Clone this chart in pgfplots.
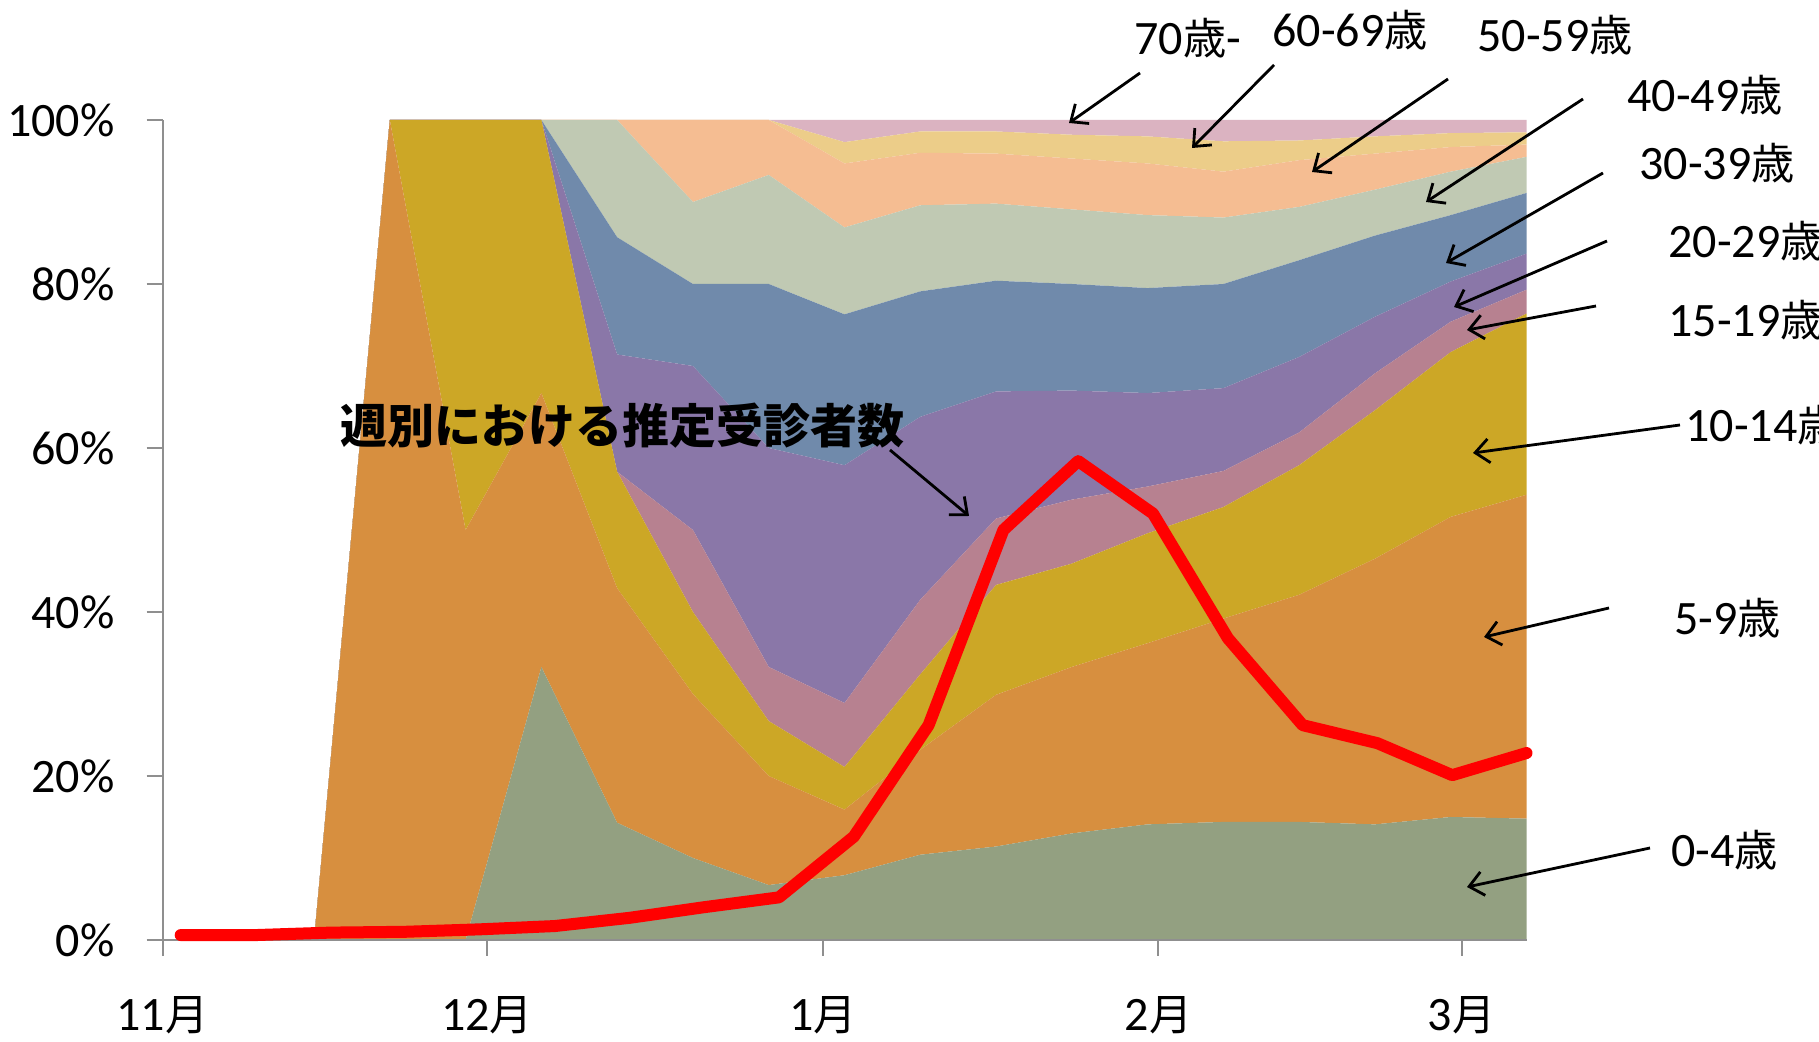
\documentclass[border=0pt]{standalone}
\usepackage{fontspec}
\setmainfont{Carlito}
\newfontfamily\cjk{Noto Sans CJK JP}[Scale=0.9]
\newfontfamily\cjkt{Noto Sans CJK JP}
\usepackage{pgfplots}
\pgfplotsset{compat=1.18}
\usepackage{pgfplotstable}
\usetikzlibrary{arrows.meta}

\definecolor{cA}{HTML}{93A081}
\definecolor{cB}{HTML}{D78F3F}
\definecolor{cC}{HTML}{CCA726}
\definecolor{cD}{HTML}{B78190}
\definecolor{cE}{HTML}{8A77A8}
\definecolor{cF}{HTML}{708AAB}
\definecolor{cG}{HTML}{C0C9B3}
\definecolor{cH}{HTML}{F5BD92}
\definecolor{cI}{HTML}{ECCD89}
\definecolor{cJ}{HTML}{DBB3C1}
\definecolor{axisgray}{HTML}{8F8F8F}

\pgfplotstableread{
d a1 a2 a3 a4 a5 a6 a7 a8 a9 a10
14 0 0 0 0 0 0 0 0 0 0
21 0 100 0 0 0 0 0 0 0 0
28 0 50 50 0 0 0 0 0 0 0
35 33.3 33.4 33.3 0 0 0 0 0 0 0
42 14.3 28.6 14.2 0 14.3 14.3 14.3 0 0 0
49 10 20 10 10 20 10 10 10 0 0
56 6.7 13.3 6.7 6.6 26.7 20 13.3 6.7 0 0
63 7.9 8.0 5.2 7.8 29.0 18.4 10.6 7.8 2.6 2.7
70 10.4 12.8 9.2 9.1 22.3 15.3 10.5 6.4 2.6 1.4
77 11.4 18.5 13.4 8.1 15.5 13.5 9.4 6.1 2.7 1.4
84 13.0 20.3 12.6 7.8 13.3 13.0 9.1 6.2 2.9 1.8
91 14.1 22.1 13.4 5.7 11.4 12.8 8.9 6.3 3.3 2.0
98 14.4 24.8 13.6 4.4 10.1 12.7 8.1 5.6 3.7 2.6
105 14.4 27.7 15.8 4.0 9.2 11.8 6.5 5.7 2.4 2.5
112 14.1 32.4 18.1 4.5 6.9 9.9 5.6 4.4 2.1 2.0
119 15.0 36.6 20.1 3.7 4.9 8.1 5.3 3.0 1.7 1.6
126 14.8 39.5 22.1 2.9 4.4 7.4 4.4 1.5 1.5 1.5
}\agedata

\pgfplotstableread{
d v
1.68 0.6
8.59 0.6
15.50 0.9
22.41 1.0
29.32 1.3
36.23 1.7
43.13 2.7
50.04 4.0
56.95 5.2
63.86 12.6
70.77 26.2
77.68 50.0
84.59 58.4
91.50 52.0
98.41 36.8
105.32 26.2
112.23 24.0
119.14 20.1
126.0 22.8
}\patients

\begin{document}
\begin{tikzpicture}
\useasboundingbox (0,0) rectangle (909.5pt,521pt);
\begin{axis}[
  at={(81.25pt,51pt)}, anchor=south west,
  scale only axis, width=682pt, height=410pt,
  xmin=0, xmax=126, ymin=0, ymax=100,
  stack plots=y, axis on top,
  axis lines=left,
  axis line style={-, draw=axisgray, line width=1pt},
  xtick={0,30,61,92,120},
  xticklabels={11{\cjk 月},12{\cjk 月},1{\cjk 月},2{\cjk 月},3{\cjk 月}},
  ytick={0,20,40,60,80,100},
  yticklabels={0\%,20\%,40\%,60\%,80\%,100\%},
  tick align=outside, major tick length=8pt,
  tick style={draw=axisgray, line width=1pt},
  tick label style={font=\fontsize{24}{28}\selectfont, inner sep=0pt},
  yticklabel style={anchor=east, xshift=-15.75pt},
  xticklabel style={anchor=north, yshift=-20pt},
]
\addplot[fill=cA, draw=none] table[x=d,y=a1]{\agedata} \closedcycle;
\addplot[fill=cB, draw=none] table[x=d,y=a2]{\agedata} \closedcycle;
\addplot[fill=cC, draw=none] table[x=d,y=a3]{\agedata} \closedcycle;
\addplot[fill=cD, draw=none] table[x=d,y=a4]{\agedata} \closedcycle;
\addplot[fill=cE, draw=none] table[x=d,y=a5]{\agedata} \closedcycle;
\addplot[fill=cF, draw=none] table[x=d,y=a6]{\agedata} \closedcycle;
\addplot[fill=cG, draw=none] table[x=d,y=a7]{\agedata} \closedcycle;
\addplot[fill=cH, draw=none] table[x=d,y=a8]{\agedata} \closedcycle;
\addplot[fill=cI, draw=none] table[x=d,y=a9]{\agedata} \closedcycle;
\addplot[fill=cJ, draw=none] table[x=d,y=a10]{\agedata} \closedcycle;
\end{axis}
\begin{axis}[
  at={(81.25pt,51pt)}, anchor=south west,
  scale only axis, width=682pt, height=410pt,
  xmin=0, xmax=126, ymin=0, ymax=100,
  hide axis, clip=false,
]
\addplot[color=red, line width=6pt, line join=round, line cap=round] table[x=d,y=v]{\patients};
\end{axis}
\begin{scope}[shift={(0pt,521pt)}, x=0.5pt, y=-0.5pt]
\tikzset{lab/.style={inner sep=0pt, anchor=base west, font=\fontsize{24}{28}\selectfont},
         arr/.style={line width=1.4pt, -{Straight Barb[length=7pt,width=12pt]}}}
\node[lab] at (1134,55) {70{\cjk 歳}-};
\node[lab] at (1272,47) {60-69{\cjk 歳}};
\node[lab] at (1477,52) {50-59{\cjk 歳}};
\node[lab] at (1627,112) {40-49{\cjk 歳}};
\node[lab] at (1639,180) {30-39{\cjk 歳}};
\node[lab] at (1668,258) {20-29{\cjk 歳}};
\node[lab] at (1668,337) {15-19{\cjk 歳}};
\node[lab] at (1685,442) {10-14{\cjk 歳}};
\node[lab] at (1674,635) {5-9{\cjk 歳}};
\node[lab] at (1671,867) {0-4{\cjk 歳}};
\node[inner sep=0pt, anchor=west, font=\fontsize{23.5}{28}\selectfont\cjkt\bfseries] at (340,426) {週別における推定受診者数};
\draw[arr] (1140,73) -- (1069,123);
\draw[arr] (1274,65) -- (1192,148);
\draw[arr] (1448,79) -- (1312,172);
\draw[arr] (1583,99) -- (1426,202);
\draw[arr] (1603,173) -- (1446,263);
\draw[arr] (1607,241) -- (1454,307);
\draw[arr] (1596,306) -- (1467,330);
\draw[arr] (1680,425) -- (1473,453);
\draw[arr] (1609,608) -- (1484,637);
\draw[arr] (1650,848) -- (1467,887);
\draw[arr] (890,450) -- (969,516);
\end{scope}
\end{tikzpicture}
\end{document}
